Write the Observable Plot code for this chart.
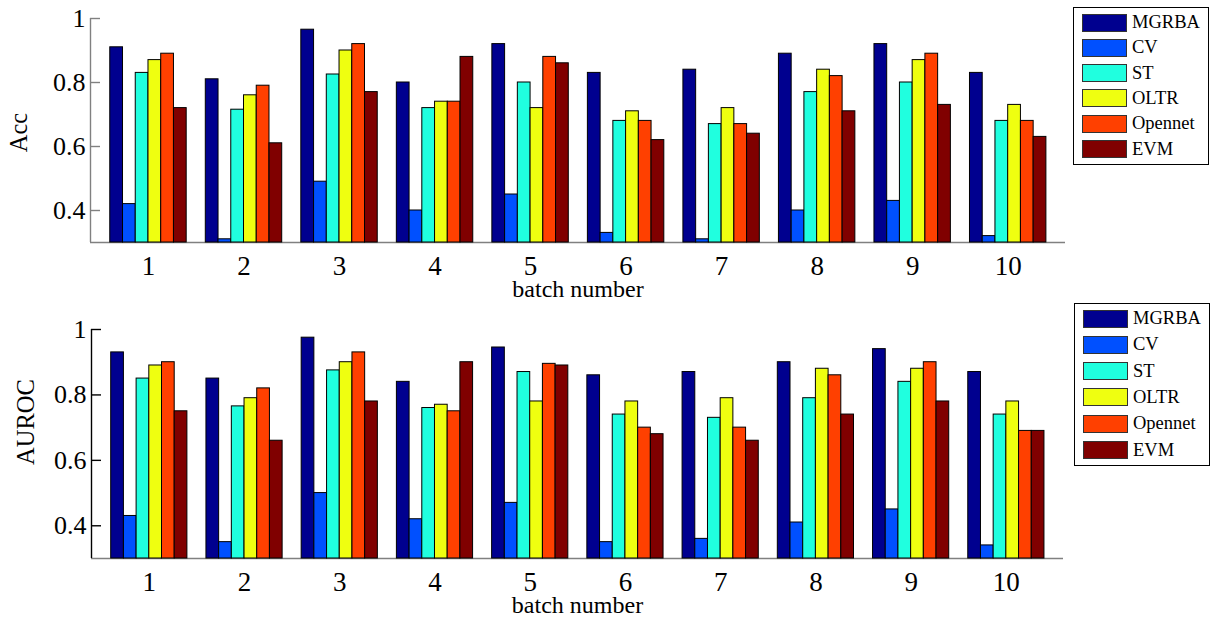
<!DOCTYPE html>
<html>
<head>
<meta charset="utf-8">
<script src="https://cdn.jsdelivr.net/npm/d3@7"></script>
<script src="https://cdn.jsdelivr.net/npm/@observablehq/plot@0.6"></script>
<style>
  html, body { margin: 0; padding: 0; background: #fff; }
  #wrap { position: relative; width: 1210px; height: 618px; background: #fff; font-family: "Liberation Serif", "Times New Roman", serif; }
  .panel { position: absolute; left: 0; }
  .legend { position: absolute; border: 1.3px solid #000; box-sizing: border-box; background: #fff; }
  .legend .row { position: absolute; left: 8px; height: 19px; display: flex; align-items: center; }
  .legend .sw { width: 45px; height: 18px; border: 1px solid #333; box-sizing: border-box; }
  .legend .lab { margin-left: 5px; font-size: 18.5px; color: #000; line-height: 19px; }
</style>
</head>
<body>
<div id="wrap">
  <div id="top" class="panel" style="top:0px"></div>
  <div id="bot" class="panel" style="top:305px"></div>
  <div id="legTop" class="legend" style="left:1073px; top:7px; width:136px; height:158px;"></div>
  <div id="legBot" class="legend" style="left:1074px; top:303px; width:136px; height:163px;"></div>
</div>
<script>
const batches = [1, 2, 3, 4, 5, 6, 7, 8, 9, 10];
const methods = ["MGRBA", "CV", "ST", "OLTR", "Opennet", "EVM"];
const methodColors = ["#00008F", "#0050FF", "#20FFDF", "#EFFF10", "#FF4000", "#800000"];
const yTicks = [0.4, 0.6, 0.8, 1];
const xLabel = "batch number";

// Acc (top panel)
const accMGRBA   = [0.91, 0.81, 0.965, 0.80, 0.92, 0.83, 0.84, 0.89, 0.92, 0.83];
const accCV      = [0.42, 0.31, 0.49, 0.40, 0.45, 0.33, 0.31, 0.40, 0.43, 0.32];
const accST      = [0.83, 0.715, 0.825, 0.72, 0.80, 0.68, 0.67, 0.77, 0.80, 0.68];
const accOLTR    = [0.87, 0.76, 0.90, 0.74, 0.72, 0.71, 0.72, 0.84, 0.87, 0.73];
const accOpennet = [0.89, 0.79, 0.92, 0.74, 0.88, 0.68, 0.67, 0.82, 0.89, 0.68];
const accEVM     = [0.72, 0.61, 0.77, 0.88, 0.86, 0.62, 0.64, 0.71, 0.73, 0.63];

// AUROC (bottom panel)
const aurocMGRBA   = [0.93, 0.85, 0.975, 0.84, 0.945, 0.86, 0.87, 0.90, 0.94, 0.87];
const aurocCV      = [0.43, 0.35, 0.50, 0.42, 0.47, 0.35, 0.36, 0.41, 0.45, 0.34];
const aurocST      = [0.85, 0.765, 0.875, 0.76, 0.87, 0.74, 0.73, 0.79, 0.84, 0.74];
const aurocOLTR    = [0.89, 0.79, 0.90, 0.77, 0.78, 0.78, 0.79, 0.88, 0.88, 0.78];
const aurocOpennet = [0.90, 0.82, 0.93, 0.75, 0.895, 0.70, 0.70, 0.86, 0.90, 0.69];
const aurocEVM     = [0.75, 0.66, 0.78, 0.90, 0.89, 0.68, 0.66, 0.74, 0.78, 0.69];

const accSeries = [accMGRBA, accCV, accST, accOLTR, accOpennet, accEVM];
const aurocSeries = [aurocMGRBA, aurocCV, aurocST, aurocOLTR, aurocOpennet, aurocEVM];

const groupWidth = 0.8;
const barW = groupWidth / methods.length;
const yDomain = [0.3, 1];
const xDomain = [0.393, 10.6];

function rows(series) {
  const out = [];
  methods.forEach((m, i) => {
    batches.forEach((b, j) => {
      out.push({batch: b, method: m, idx: i, value: series[i][j]});
    });
  });
  return out;
}

const fontFamily = '"Liberation Serif", "Times New Roman", serif';
const fmt = d => d === 1 ? "1" : d.toFixed(1);

function panel({series, label, height, mt, mb, ml, mr, axisColor, labelX, labelDy}) {
  const data = rows(series);
  return Plot.plot({
    width: 1210,
    height,
    marginTop: mt, marginBottom: mb, marginLeft: ml, marginRight: mr,
    x: {domain: xDomain},
    y: {domain: yDomain},
    color: {domain: methods, range: methodColors},
    style: {fontFamily, background: "white", color: "black", overflow: "visible"},
    marks: [
      Plot.ruleY([yDomain[0]], {stroke: "#808080", strokeWidth: 1.6}),
      Plot.rectY(data, {
        x1: d => d.batch - groupWidth / 2 + d.idx * barW,
        x2: d => d.batch - groupWidth / 2 + (d.idx + 1) * barW,
        y1: yDomain[0],
        y2: "value",
        fill: "method",
        stroke: "black",
        strokeWidth: 1
      }),
      Plot.ruleX([xDomain[0]], {stroke: axisColor, strokeWidth: 1.4}),
      Plot.axisY(yTicks, {anchor: "left", tickSize: -10, tickPadding: 15, tickFormat: fmt, fontSize: 26, stroke: axisColor, fill: "black", strokeWidth: 1.4, label: null}),
      Plot.axisX(batches, {anchor: "bottom", tickSize: 0, tickPadding: 13, fontSize: 27, fill: "black", label: null}),
      Plot.text([xLabel], {frameAnchor: "bottom", textAnchor: "middle", lineAnchor: "middle", dy: 47, fontSize: 24, fill: "black"}),
      Plot.text([label], {frameAnchor: "left", rotate: -90, textAnchor: "middle", lineAnchor: "middle", dx: labelX - ml, dy: labelDy, fontSize: 24.5, fill: "black"})
    ]
  });
}

document.getElementById("top").appendChild(panel({
  series: accSeries, label: "Acc", height: 305, mt: 18, mb: 63, ml: 90, mr: 145, axisColor: "#808080", labelX: 19, labelDy: 2
}));
document.getElementById("bot").appendChild(panel({
  series: aurocSeries, label: "AUROC", height: 313, mt: 24, mb: 60, ml: 91, mr: 147, axisColor: "#000000", labelX: 25.6, labelDy: -22
}));

function legend(id, spacing) {
  const el = document.getElementById(id);
  methods.forEach((m, i) => {
    const row = document.createElement("div");
    row.className = "row";
    row.style.top = (5 + i * spacing) + "px";
    const sw = document.createElement("div");
    sw.className = "sw";
    sw.style.background = methodColors[i];
    const lab = document.createElement("span");
    lab.className = "lab";
    lab.textContent = m;
    row.appendChild(sw);
    row.appendChild(lab);
    el.appendChild(row);
  });
}
legend("legTop", 25.3);
legend("legBot", 26.3);
</script>
</body>
</html>
